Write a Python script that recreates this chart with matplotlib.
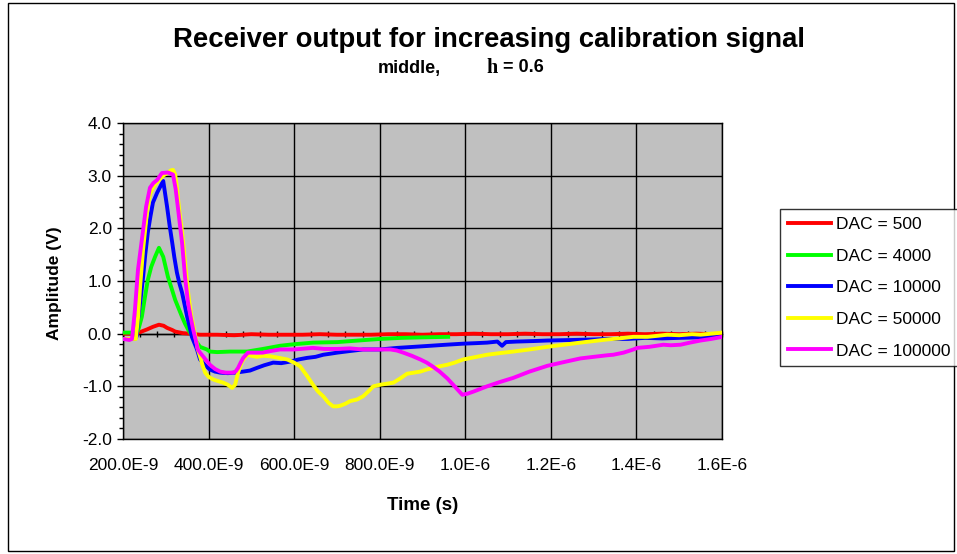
import matplotlib
matplotlib.use("Agg")
import matplotlib.pyplot as plt
from matplotlib.ticker import MultipleLocator, FixedLocator, FixedFormatter, NullFormatter
from matplotlib.patches import Rectangle
import numpy as np

plt.rcParams['font.family'] = ['Liberation Sans', 'DejaVu Sans']

# ---------------- data (time in ns, amplitude in V) ----------------
series_names = ["DAC = 500", "DAC = 4000", "DAC = 10000", "DAC = 50000", "DAC = 100000"]
series_colors = ["#FF0000", "#00FF00", "#0000FF", "#FFFF00", "#FF00FF"]

red_t = [200, 215, 230, 240, 256, 270, 284, 295, 303, 315, 322, 340, 357, 380, 420, 460, 500, 540, 580, 620, 660, 700, 740, 780, 820, 860, 900, 940, 980, 1020, 1060, 1100, 1140, 1180, 1220, 1260, 1300, 1340, 1380, 1420, 1460, 1500, 1540, 1580, 1600]
red_v = [0.00, 0.00, 0.00, 0.03, 0.08, 0.13, 0.17, 0.15, 0.11, 0.07, 0.04, 0.01, 0.00, -0.02, -0.02, -0.03, -0.01, -0.02, -0.02, -0.02, -0.01, -0.02, -0.02, -0.02, -0.01, -0.01, -0.02, -0.01, -0.01, 0.00, -0.01, -0.01, 0.00, -0.01, -0.01, 0.00, -0.01, -0.01, 0.00, -0.01, 0.00, -0.01, 0.00, -0.01, 0.00]

green_t = [200, 215, 228, 235, 244, 251, 258, 266, 275, 284, 294, 305, 314, 322, 330, 338, 345, 352, 360, 368, 380, 396, 403, 420, 450, 490, 527, 567, 600, 644, 701, 750, 801, 850, 900, 960]
green_v = [0.02, 0.02, 0.02, 0.05, 0.32, 0.68, 1.02, 1.27, 1.46, 1.63, 1.46, 1.08, 0.85, 0.64, 0.48, 0.32, 0.19, 0.08, -0.02, -0.11, -0.25, -0.30, -0.34, -0.35, -0.34, -0.34, -0.29, -0.23, -0.20, -0.17, -0.16, -0.13, -0.10, -0.08, -0.07, -0.06]

blue_t = [200, 215, 228, 232, 235, 241, 247, 252, 258, 264, 270, 280, 287, 294, 303, 309, 315, 320, 326, 332, 338, 344, 350, 356, 361, 367, 373, 380, 392, 403, 415, 427, 445, 462, 481, 497, 513, 530, 551, 570, 591, 610, 630, 650, 668, 685, 701, 730, 761, 800, 841, 880, 918, 955, 995, 1025, 1051, 1075, 1086, 1095, 1120, 1160, 1192, 1250, 1300, 1332, 1380, 1420, 1460, 1500, 1550, 1600]
blue_v = [-0.10, -0.10, -0.10, -0.05, 0.27, 0.65, 1.08, 1.50, 1.92, 2.22, 2.49, 2.68, 2.79, 2.90, 2.41, 2.05, 1.73, 1.45, 1.16, 0.95, 0.78, 0.55, 0.32, 0.12, -0.06, -0.18, -0.30, -0.49, -0.60, -0.68, -0.72, -0.74, -0.75, -0.74, -0.72, -0.70, -0.65, -0.60, -0.55, -0.56, -0.53, -0.49, -0.46, -0.44, -0.40, -0.38, -0.36, -0.33, -0.30, -0.30, -0.27, -0.25, -0.23, -0.21, -0.19, -0.18, -0.17, -0.15, -0.23, -0.16, -0.15, -0.14, -0.13, -0.12, -0.11, -0.10, -0.10, -0.08, -0.09, -0.08, -0.07, -0.06]

yellow_t = [200, 215, 230, 235, 240, 247, 256, 263, 272, 280, 294, 305, 312, 317, 322, 327, 332, 337, 341, 345, 348, 352, 355, 360, 366, 371, 375, 380, 386, 392, 400, 411, 422, 434, 445, 455, 462, 469, 478, 490, 500, 513, 528, 544, 565, 584, 600, 614, 630, 644, 656, 668, 680, 691, 700, 707, 720, 731, 747, 761, 773, 785, 801, 817, 832, 848, 864, 880, 895, 910, 925, 940, 958, 975, 995, 1020, 1051, 1080, 1112, 1150, 1192, 1230, 1269, 1300, 1332, 1360, 1393, 1426, 1450, 1472, 1500, 1530, 1550, 1575, 1600]
yellow_v = [-0.10, -0.10, -0.10, 0.30, 0.90, 1.60, 2.30, 2.65, 2.80, 2.88, 3.00, 3.06, 3.10, 3.11, 3.02, 2.70, 2.30, 2.00, 1.70, 1.35, 1.10, 0.80, 0.60, 0.32, 0.08, -0.12, -0.30, -0.43, -0.60, -0.74, -0.82, -0.87, -0.90, -0.93, -0.97, -1.03, -0.97, -0.74, -0.53, -0.40, -0.42, -0.44, -0.42, -0.43, -0.46, -0.49, -0.55, -0.62, -0.80, -0.97, -1.10, -1.19, -1.31, -1.38, -1.38, -1.37, -1.33, -1.28, -1.25, -1.19, -1.10, -1.00, -0.97, -0.95, -0.93, -0.85, -0.76, -0.74, -0.72, -0.68, -0.65, -0.62, -0.59, -0.55, -0.49, -0.45, -0.40, -0.37, -0.34, -0.30, -0.25, -0.21, -0.17, -0.14, -0.11, -0.09, -0.06, -0.06, -0.04, -0.02, -0.03, -0.01, -0.02, 0.00, 0.02]

magenta_t = [200, 215, 221, 228, 235, 244, 254, 263, 271, 280, 291, 305, 317, 323, 329, 338, 345, 352, 358, 364, 370, 375, 380, 392, 403, 415, 427, 440, 457, 463, 469, 475, 481, 492, 510, 527, 545, 567, 600, 644, 670, 701, 730, 761, 800, 825, 840, 855, 875, 895, 910, 925, 940, 958, 975, 993, 1005, 1019, 1035, 1051, 1080, 1112, 1150, 1192, 1230, 1269, 1300, 1332, 1346, 1370, 1393, 1402, 1430, 1463, 1480, 1503, 1525, 1550, 1575, 1601]
magenta_v = [-0.10, -0.12, -0.10, 0.46, 1.21, 1.78, 2.41, 2.77, 2.86, 2.92, 3.05, 3.06, 3.02, 2.75, 2.35, 1.73, 1.08, 0.59, 0.32, 0.08, -0.12, -0.30, -0.36, -0.48, -0.59, -0.67, -0.72, -0.74, -0.74, -0.72, -0.65, -0.55, -0.46, -0.36, -0.36, -0.36, -0.33, -0.30, -0.30, -0.27, -0.29, -0.29, -0.28, -0.30, -0.30, -0.30, -0.32, -0.36, -0.42, -0.49, -0.55, -0.63, -0.72, -0.85, -1.00, -1.16, -1.14, -1.10, -1.05, -1.00, -0.92, -0.84, -0.72, -0.61, -0.54, -0.47, -0.44, -0.41, -0.40, -0.36, -0.30, -0.27, -0.25, -0.21, -0.22, -0.21, -0.17, -0.13, -0.10, -0.06]

x_tick_values_ns = [200, 400, 600, 800, 1000, 1200, 1400, 1600]
x_tick_labels = ["200.0E-9", "400.0E-9", "600.0E-9", "800.0E-9", "1.0E-6", "1.2E-6", "1.4E-6", "1.6E-6"]
y_ticks = [-2.0, -1.0, 0.0, 1.0, 2.0, 3.0, 4.0]

title = "Receiver output for increasing calibration signal"

# ---------------- figure ----------------
W, H = 957, 554
fig = plt.figure(figsize=(W / 100, H / 100), dpi=100)
fig.patch.set_facecolor("white")

# chart-area border
fig.patches.append(Rectangle((8 / W, 3 / H), (954 - 8) / W, (551 - 3) / H,
                             transform=fig.transFigure, fill=False,
                             edgecolor="black", linewidth=1.0))

L, R, T, B = 123, 722, 123, 439
ax = fig.add_axes([L / W, 1 - B / H, (R - L) / W, (B - T) / H])
ax.set_facecolor("#C0C0C0")

all_t = [red_t, green_t, blue_t, yellow_t, magenta_t]
all_v = [red_v, green_v, blue_v, yellow_v, magenta_v]
for t, v, name, col in zip(all_t, all_v, series_names, series_colors):
    ax.plot(np.array(t) * 1e-9, v, color=col, lw=2.8, label=name,
            solid_joinstyle="round", zorder=3)

ax.set_xlim(200e-9, 1600e-9)
ax.set_ylim(-2.0, 4.0)

xt = [v * 1e-9 for v in x_tick_values_ns]
ax.xaxis.set_major_locator(FixedLocator(xt))
ax.xaxis.set_major_formatter(FixedFormatter(x_tick_labels))
ax.yaxis.set_major_locator(FixedLocator(y_ticks))
ax.yaxis.set_minor_locator(MultipleLocator(0.2))
ax.yaxis.set_major_formatter(matplotlib.ticker.FormatStrFormatter("%.1f"))

ax.grid(True, which="major", color="black", lw=1.0, zorder=1)
ax.set_axisbelow(True)

ax.tick_params(axis="x", which="both", length=0, pad=13.5, labelsize=12.5, colors="black")
ax.tick_params(axis="y", which="major", direction="out", length=4, width=1, pad=4, labelsize=12.5)
ax.tick_params(axis="y", which="minor", direction="out", length=3, width=1)

for s in ax.spines.values():
    s.set_color("black")
    s.set_linewidth(1.0)

# horizontal value axis crossing at 0 (with minor ticks)
sec = ax.secondary_xaxis((0 - (-2.0)) / 6.0)
sec.xaxis.set_major_locator(FixedLocator(xt))
sec.xaxis.set_minor_locator(MultipleLocator(40e-9))
sec.xaxis.set_major_formatter(NullFormatter())
sec.xaxis.set_minor_formatter(NullFormatter())
sec.tick_params(axis="x", which="both", direction="inout", length=4, width=1, colors="black")
sec.spines["bottom"].set_color("black")
sec.spines["bottom"].set_linewidth(1.0)

# titles and labels
fig.text(489 / W, 1 - 40 / H, title, ha="center", va="center",
         fontsize=19.8, fontweight="bold")
fig.text(378 / W, 1 - 68 / H, "middle,", ha="left", va="center",
         fontsize=13, fontweight="bold")
fig.text(486 / W, 1 - 68 / H, "h", ha="left", va="center",
         fontsize=14.5, fontweight="bold", family="Liberation Serif")
fig.text(503 / W, 1 - 68 / H, "= 0.6", ha="left", va="center",
         fontsize=13, fontweight="bold")

fig.text(423 / W, 1 - 506 / H, "Time (s)", ha="center", va="center",
         fontsize=13.5, fontweight="bold")
fig.text(54 / W, 1 - 283 / H, "Amplitude (V)", ha="center", va="center",
         rotation=90, fontsize=12.5, fontweight="bold")

leg = fig.legend(loc="upper left", bbox_to_anchor=(780 / W, 1 - 209 / H),
                 bbox_transform=fig.transFigure, fontsize=12.5,
                 frameon=True, fancybox=False, shadow=False,
                 handlelength=2.5, handletextpad=0.3, labelspacing=0.95,
                 borderpad=0.45, borderaxespad=0.0)
leg.get_frame().set_edgecolor("black")
leg.get_frame().set_linewidth(1.0)
for line in leg.get_lines():
    line.set_linewidth(2.8)

fig.savefig("out.png", dpi=100, facecolor="white")
